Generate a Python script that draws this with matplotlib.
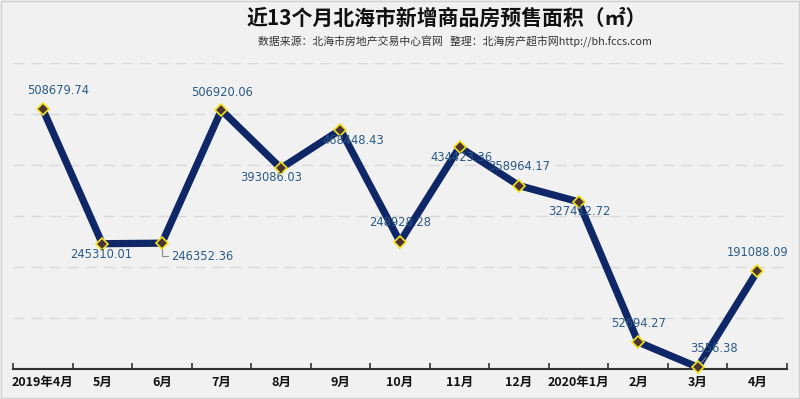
import matplotlib.pyplot as plt
import numpy as np

plt.rcParams['font.family'] = ['Noto Sans CJK SC', 'DejaVu Sans']

# data
months = ["2019年4月", "5月", "6月", "7月", "8月", "9月", "10月",
          "11月", "12月", "2020年1月", "2月", "3月", "4月"]
area = [508679.74, 245310.01, 246352.36, 506920.06, 393086.03, 468448.43,
        248928.28, 434423.36, 358964.17, 327412.72, 52694.27, 3556.38, 191088.09]
# label offsets in pixels (dx, dy) relative to each point
label_dx = [15, -1, 40, 1, -10, 13, 0, 2, 0, 1, 0, 16, 0]
label_dy = [19, -11, -13, 18, -9, -11, 19, -10, 19, -10, 19, 19, 19]
leader = [False, False, True, False, False, False, False, False, False, False, False, True, False]

bg = "#f1f1f1"
fig = plt.figure(figsize=(8, 3.99), dpi=100, facecolor=bg)
ax = fig.add_axes([0.01625, 0.0752, 0.9675, 0.768])
ax.set_facecolor(bg)

x = np.arange(len(months))
ax.plot(x, area, color="#0f2766", lw=5.2, solid_joinstyle="miter", zorder=3, clip_on=False)
ax.plot(x, area, ls="none", marker="D", ms=6, mfc="#4b3434", mec="#f2e31a", mew=1.2,
        zorder=4, clip_on=False)

for i, v in enumerate(area):
    kw = {}
    if leader[i]:
        kw["arrowprops"] = dict(arrowstyle="-", color="#8a8a8a", lw=0.8,
                                connectionstyle="angle,angleA=0,angleB=90,rad=0" if i == 2 else "arc3",
                                shrinkA=0, shrinkB=4)
    ax.annotate(f"{v:.2f}", (x[i], v), xytext=(label_dx[i], label_dy[i]),
                textcoords="offset pixels", ha="center", va="center",
                fontsize=8.3, color="#2b5a85", family=["DejaVu Sans"], zorder=5, **kw)

ax.set_xlim(-0.5, len(months) - 0.5)
ax.set_ylim(0, 600000)
ax.set_yticks([100000, 200000, 300000, 400000, 500000, 600000])
ax.yaxis.grid(True, ls=(0, (8, 5)), color="#d9d9d9", lw=1)
ax.tick_params(axis="y", left=False, labelleft=False)
for s in ["top", "right", "left"]:
    ax.spines[s].set_visible(False)
ax.spines["bottom"].set_color("#333333")
ax.spines["bottom"].set_linewidth(1.5)

ax.set_xticks(np.arange(-0.5, len(months)), minor=False)
ax.set_xticklabels([])
ax.tick_params(axis="x", direction="in", length=4, width=1.2, color="#333333")
ax.set_xticks(x, minor=True)
ax.set_xticklabels(months, minor=True, fontsize=9, fontweight="bold", color="#111111")
ax.tick_params(axis="x", which="minor", length=0, pad=5)

fig.text(0.559, 0.955, "近13个月北海市新增商品房预售面积（㎡）", ha="center", va="center",
         fontsize=15, fontweight="bold", color="#111111")
fig.text(0.569, 0.895, "数据来源：北海市房地产交易中心官网   整理：北海房产超市网http://bh.fccs.com",
         ha="center", va="center", fontsize=7.8, color="#333333")

# thin frame around figure
fig.patches.append(plt.Rectangle((0.001, 0.002), 0.998, 0.996, transform=fig.transFigure,
                                 fill=False, ec="#d0d0d0", lw=1))

fig.savefig("out.png", dpi=100, facecolor=bg)
